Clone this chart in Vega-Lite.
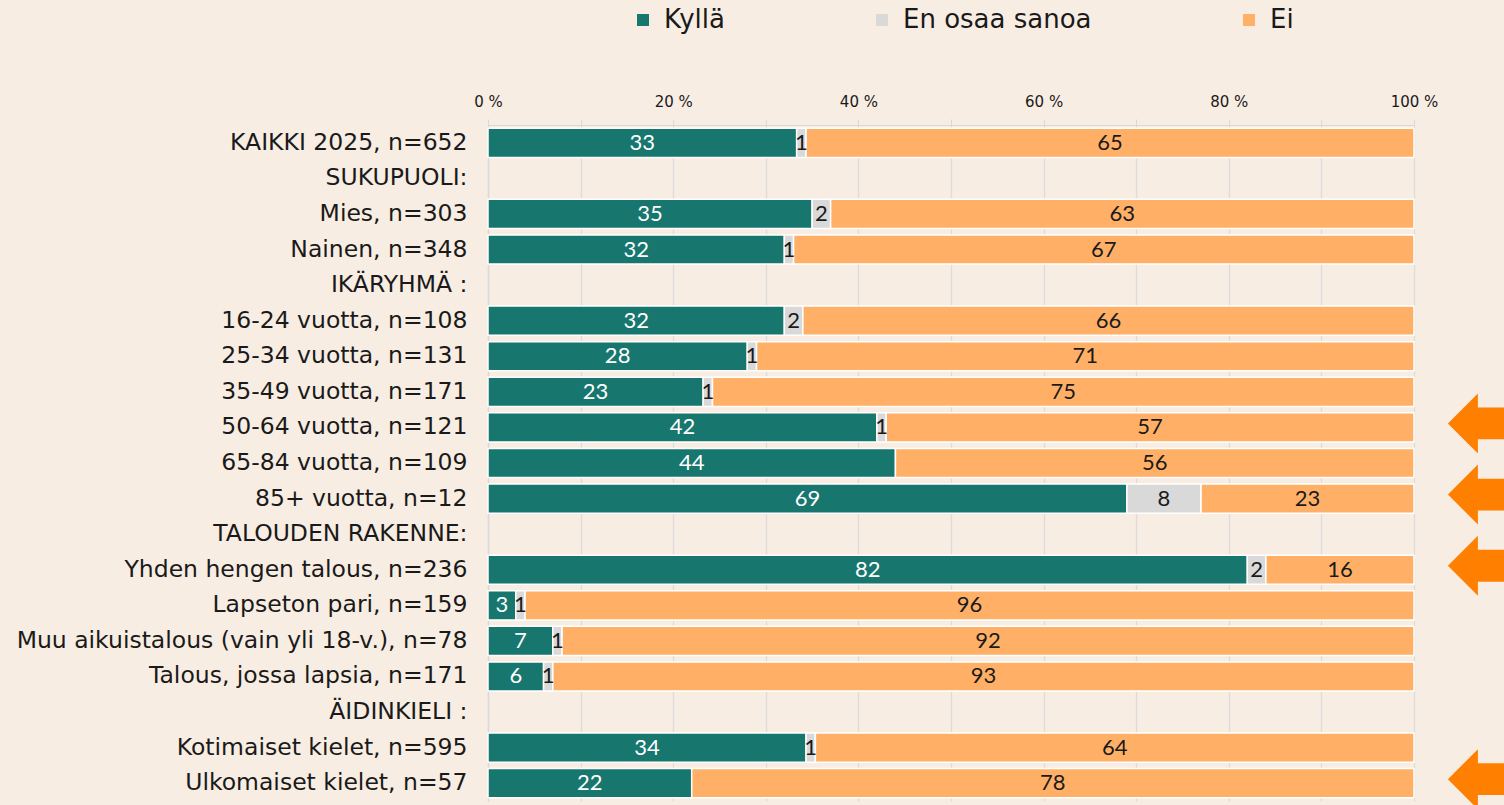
{
  "$schema": "https://vega.github.io/schema/vega-lite/v6.json",
  "width": 926,
  "height": 676,
  "autosize": {"type": "none"},
  "padding": {"left": 488, "top": 125, "right": 90, "bottom": 4},
  "background": "#F8EDE3",
  "config": {
    "view": {"stroke": null},
    "font": "DejaVu Sans",
    "axis": {"labelFont": "DejaVu Sans", "labelColor": "#1a1a1a"}
  },
  "datasets": {
    "bars": [
      {"cat": "KAIKKI 2025, n=652", "answer": "Kyllä", "o": 1, "value": 33},
      {"cat": "KAIKKI 2025, n=652", "answer": "En osaa sanoa", "o": 2, "value": 1},
      {"cat": "KAIKKI 2025, n=652", "answer": "Ei", "o": 3, "value": 65},
      {"cat": "Mies, n=303", "answer": "Kyllä", "o": 1, "value": 35},
      {"cat": "Mies, n=303", "answer": "En osaa sanoa", "o": 2, "value": 2},
      {"cat": "Mies, n=303", "answer": "Ei", "o": 3, "value": 63},
      {"cat": "Nainen, n=348", "answer": "Kyllä", "o": 1, "value": 32},
      {"cat": "Nainen, n=348", "answer": "En osaa sanoa", "o": 2, "value": 1},
      {"cat": "Nainen, n=348", "answer": "Ei", "o": 3, "value": 67},
      {"cat": "16-24 vuotta, n=108", "answer": "Kyllä", "o": 1, "value": 32},
      {"cat": "16-24 vuotta, n=108", "answer": "En osaa sanoa", "o": 2, "value": 2},
      {"cat": "16-24 vuotta, n=108", "answer": "Ei", "o": 3, "value": 66},
      {"cat": "25-34 vuotta, n=131", "answer": "Kyllä", "o": 1, "value": 28},
      {"cat": "25-34 vuotta, n=131", "answer": "En osaa sanoa", "o": 2, "value": 1},
      {"cat": "25-34 vuotta, n=131", "answer": "Ei", "o": 3, "value": 71},
      {"cat": "35-49 vuotta, n=171", "answer": "Kyllä", "o": 1, "value": 23},
      {"cat": "35-49 vuotta, n=171", "answer": "En osaa sanoa", "o": 2, "value": 1},
      {"cat": "35-49 vuotta, n=171", "answer": "Ei", "o": 3, "value": 75},
      {"cat": "50-64 vuotta, n=121", "answer": "Kyllä", "o": 1, "value": 42},
      {"cat": "50-64 vuotta, n=121", "answer": "En osaa sanoa", "o": 2, "value": 1},
      {"cat": "50-64 vuotta, n=121", "answer": "Ei", "o": 3, "value": 57},
      {"cat": "65-84 vuotta, n=109", "answer": "Kyllä", "o": 1, "value": 44},
      {"cat": "65-84 vuotta, n=109", "answer": "Ei", "o": 3, "value": 56},
      {"cat": "85+ vuotta, n=12", "answer": "Kyllä", "o": 1, "value": 69},
      {"cat": "85+ vuotta, n=12", "answer": "En osaa sanoa", "o": 2, "value": 8},
      {"cat": "85+ vuotta, n=12", "answer": "Ei", "o": 3, "value": 23},
      {"cat": "Yhden hengen talous, n=236", "answer": "Kyllä", "o": 1, "value": 82},
      {"cat": "Yhden hengen talous, n=236", "answer": "En osaa sanoa", "o": 2, "value": 2},
      {"cat": "Yhden hengen talous, n=236", "answer": "Ei", "o": 3, "value": 16},
      {"cat": "Lapseton pari, n=159", "answer": "Kyllä", "o": 1, "value": 3},
      {"cat": "Lapseton pari, n=159", "answer": "En osaa sanoa", "o": 2, "value": 1},
      {"cat": "Lapseton pari, n=159", "answer": "Ei", "o": 3, "value": 96},
      {"cat": "Muu aikuistalous (vain yli 18-v.), n=78", "answer": "Kyllä", "o": 1, "value": 7},
      {"cat": "Muu aikuistalous (vain yli 18-v.), n=78", "answer": "En osaa sanoa", "o": 2, "value": 1},
      {"cat": "Muu aikuistalous (vain yli 18-v.), n=78", "answer": "Ei", "o": 3, "value": 92},
      {"cat": "Talous, jossa lapsia, n=171", "answer": "Kyllä", "o": 1, "value": 6},
      {"cat": "Talous, jossa lapsia, n=171", "answer": "En osaa sanoa", "o": 2, "value": 1},
      {"cat": "Talous, jossa lapsia, n=171", "answer": "Ei", "o": 3, "value": 93},
      {"cat": "Kotimaiset kielet, n=595", "answer": "Kyllä", "o": 1, "value": 34},
      {"cat": "Kotimaiset kielet, n=595", "answer": "En osaa sanoa", "o": 2, "value": 1},
      {"cat": "Kotimaiset kielet, n=595", "answer": "Ei", "o": 3, "value": 64},
      {"cat": "Ulkomaiset kielet, n=57", "answer": "Kyllä", "o": 1, "value": 22},
      {"cat": "Ulkomaiset kielet, n=57", "answer": "Ei", "o": 3, "value": 78}
    ],
    "arrows": [
      {"cat": "50-64 vuotta, n=121", "pos": 1.069},
      {"cat": "85+ vuotta, n=12", "pos": 1.069},
      {"cat": "Yhden hengen talous, n=236", "pos": 1.069},
      {"cat": "Ulkomaiset kielet, n=57", "pos": 1.069}
    ]
  },
  "layer": [
    {
      "data": {"name": "bars"},
      "transform": [
        {"stack": "value", "groupby": ["cat"], "sort": [{"field": "o", "order": "ascending"}], "offset": "normalize", "as": ["v0", "v1"]}
      ],
      "mark": {"type": "bar", "stroke": "white", "strokeWidth": 1.5},
      "encoding": {
        "y": {
          "field": "cat", "type": "nominal",
          "scale": {
            "domain": ["KAIKKI 2025, n=652", "SUKUPUOLI:", "Mies, n=303", "Nainen, n=348", "IKÄRYHMÄ :", "16-24 vuotta, n=108", "25-34 vuotta, n=131", "35-49 vuotta, n=171", "50-64 vuotta, n=121", "65-84 vuotta, n=109", "85+ vuotta, n=12", "TALOUDEN RAKENNE:", "Yhden hengen talous, n=236", "Lapseton pari, n=159", "Muu aikuistalous (vain yli 18-v.), n=78", "Talous, jossa lapsia, n=171", "ÄIDINKIELI :", "Kotimaiset kielet, n=595", "Ulkomaiset kielet, n=57"],
            "paddingInner": 0.18, "paddingOuter": 0.09
          },
          "axis": {
            "title": null, "ticks": false, "labelPadding": 21, "labelFontSize": 23.5, "labelLimit": 700,
            "domainColor": "#d9d9d9", "domainWidth": 1.5
          }
        },
        "x": {
          "field": "v0", "type": "quantitative",
          "scale": {"domain": [0, 1], "nice": false},
          "axis": {
            "orient": "top", "title": null,
            "values": [0, 0.1, 0.2, 0.3, 0.4, 0.5, 0.6, 0.7, 0.8, 0.9, 1],
            "labelExpr": "round(datum.value*100) % 20 === 0 ? round(datum.value*100) + ' %' : ''",
            "labelFontSize": 15, "labelPadding": 10, "labelFlush": false,
            "tickSize": 6, "tickColor": "#d9d9d9", "domainColor": "#d9d9d9",
            "grid": true, "gridColor": "#dcdcdc", "gridWidth": 1.3
          }
        },
        "x2": {"field": "v1"},
        "color": {
          "field": "answer", "type": "nominal",
          "scale": {"domain": ["Kyllä", "En osaa sanoa", "Ei"], "range": ["#17766E", "#D9D9D9", "#FFB066"]},
          "legend": {
            "title": null, "orient": "none", "direction": "horizontal",
            "legendX": 142, "legendY": -118,
            "symbolType": "square", "symbolSize": 144, "symbolStrokeWidth": 0,
            "labelFontSize": 26, "labelColor": "#1a1a1a", "labelFont": "DejaVu Sans",
            "columnPadding": 144, "labelOffset": 8, "labelLimit": 400
          }
        }
      }
    },
    {
      "data": {"name": "bars"},
      "transform": [
        {"stack": "value", "groupby": ["cat"], "sort": [{"field": "o", "order": "ascending"}], "offset": "normalize", "as": ["v0", "v1"]},
        {"calculate": "(datum.v0 + datum.v1) / 2", "as": "mid"}
      ],
      "mark": {"type": "text", "fontSize": 22, "font": "Lato", "baseline": "middle", "align": "center"},
      "encoding": {
        "y": {"field": "cat", "type": "nominal"},
        "x": {"field": "mid", "type": "quantitative"},
        "text": {"field": "value", "type": "quantitative"},
        "color": {"condition": {"test": "datum.answer === 'Kyllä'", "value": "#ffffff"}, "value": "#1a1a1a"}
      }
    },
    {
      "data": {"name": "arrows"},
      "mark": {
        "type": "point", "filled": true, "opacity": 1, "size": 3600,
        "shape": "M -1 0 L 0 -1 L 0 -0.53 L 3 -0.53 L 3 0.53 L 0 0.53 L 0 1 Z",
        "color": "#FF7F00", "yOffset": -4
      },
      "encoding": {
        "y": {"field": "cat", "type": "nominal"},
        "x": {"field": "pos", "type": "quantitative"}
      }
    }
  ]
}
